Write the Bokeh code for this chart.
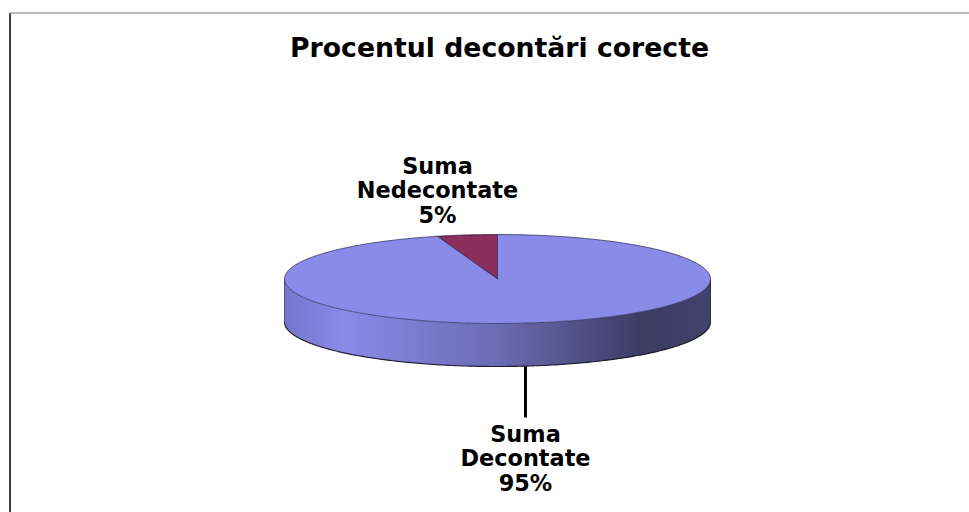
import numpy as np
from bokeh.embed import file_html
from bokeh.models import Range1d
from bokeh.plotting import figure
from bokeh.resources import INLINE
from bokeh.core.properties import value

title_text = "Procentul decontări corecte"
shares = [95.45, 4.55]
slice_labels = ["Suma\nDecontate\n95%", "Suma\nNedecontate\n5%"]
slice_colors = ["#8a8ae8", "#8b2f5c"]
label_x = [525, 437]
label_y = [433, 165]
label_step = 24.5

cx, cy, rx, ry, depth = 497, 278.5, 213, 44.5, 43

gradient_pos = [0.0, 0.14, 0.5, 0.84, 1.0]
gradient_rgb = [(118, 118, 205), (138, 138, 232), (108, 108, 180), (60, 60, 100), (66, 66, 110)]

p = figure(width=969, height=512, output_backend="svg", toolbar_location=None,
           x_range=Range1d(0, 969), y_range=Range1d(512, 0),
           min_border=0, background_fill_color="white", border_fill_color="white",
           outline_line_color=None, x_axis_location=None, y_axis_location=None)
p.grid.visible = False

# Frame
p.line([9.5, 9.5], [12.5, 512], line_color="#000000", line_width=1.5)
p.line([9.5, 969], [12.5, 12.5], line_color="#a0a0a0", line_width=1.5)

# Side of the disc
edges = np.linspace(cx - rx, cx + rx, 214)
xs, ys, cols = [], [], []
for x0, x1 in zip(edges[:-1], edges[1:]):
    sx = np.linspace(x0, x1 + 0.6, 4).clip(cx - rx, cx + rx)
    top = cy + ry * np.sqrt(np.clip(1 - ((sx - cx) / rx) ** 2, 0, 1))
    xs.append(np.r_[sx, sx[::-1]])
    ys.append(np.r_[top, (top + depth)[::-1]])
    f = ((x0 + x1) / 2 - (cx - rx)) / (2 * rx)
    c = [int(np.interp(f, gradient_pos, [g[i] for g in gradient_rgb])) for i in range(3)]
    cols.append("#%02x%02x%02x" % tuple(c))
p.patches(xs, ys, fill_color=cols, line_color=None)

# Lower rim of the side
t = np.linspace(np.pi, 2 * np.pi, 200)
p.line(cx + rx * np.cos(t), cy - ry * np.sin(t) + depth, line_color="#101020", line_width=1.2, line_alpha=0.9)
p.line([cx - rx, cx - rx], [cy, cy + depth], line_color="#505080", line_width=1)
p.line([cx + rx, cx + rx], [cy, cy + depth], line_color="#2c2c48", line_width=1)

# Top face: slices start at 12 o'clock and run counter-clockwise, small slice first
start = np.pi / 2
for share, col in zip(shares[::-1], slice_colors[::-1]):
    end = start + share / 100 * 2 * np.pi
    a = np.linspace(start, end, 240)
    px = np.r_[cx, cx + rx * np.cos(a)]
    py = np.r_[cy, cy - ry * np.sin(a)]
    is_small = share < 50
    p.patch(px, py, fill_color=col, line_color="#2a1830" if is_small else "#30305a",
            line_width=1, line_alpha=0.9 if is_small else 0.75)
    start = end

# Leader line of the large slice
p.line([label_x[0], label_x[0]], [cy + ry + depth, label_y[0] - 16], line_color="#000000", line_width=3)

# Texts
p.text([499], [47], text=[title_text], text_font=value("DejaVu Sans"), text_font_style="bold",
       text_font_size="26.7px", text_align="center", text_baseline="middle", text_color="#000000")
for lx, ly, lab in zip(label_x, label_y, slice_labels):
    lines = lab.split("\n")
    p.text([lx] * len(lines), [ly + i * label_step for i in range(len(lines))], text=lines,
           text_font=value("DejaVu Sans"), text_font_style="bold", text_font_size="22.4px",
           text_align="center", text_baseline="middle", text_color="#000000")

open("out.html", "w").write(file_html(p, INLINE))
